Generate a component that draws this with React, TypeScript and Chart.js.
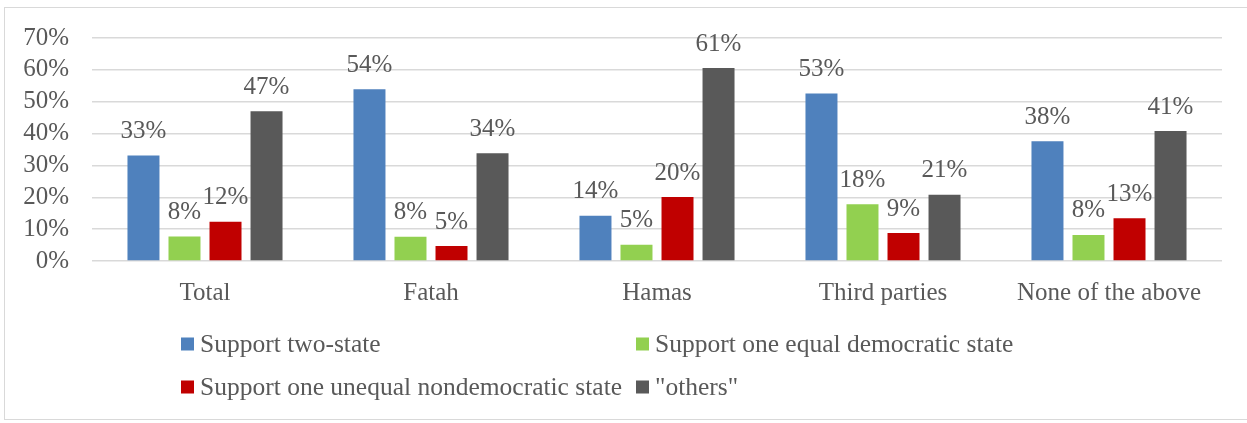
import React, { useEffect, useRef } from "react";
import { Chart, registerables } from "chart.js";

Chart.register(...registerables);

const categories = ["Total", "Fatah", "Hamas", "Third parties", "None of the above"];
const seriesNames = [
  "Support two-state",
  "Support one equal democratic state",
  "Support one unequal nondemocratic state",
  "\"others\"",
];
const twoState = [33.1, 53.9, 14.2, 52.6, 37.6];
const oneEqual = [7.7, 7.6, 5.1, 17.8, 8.2];
const oneUnequal = [12.3, 4.7, 20.1, 8.8, 13.4];
const others = [47.0, 33.8, 60.6, 20.8, 40.8];
const colors = ["#4F81BD", "#92D050", "#C00000", "#595959"];
const yTicks = [0, 10, 20, 30, 40, 50, 60, 70];

const FONT = "'Liberation Serif', 'Times New Roman', serif";
const TEXT = "#595959";

const dataLabels = {
  id: "dataLabels",
  afterDatasetsDraw(chart: any) {
    const ctx = chart.ctx;
    ctx.save();
    ctx.font = `25px ${FONT}`;
    ctx.fillStyle = TEXT;
    ctx.textAlign = "center";
    ctx.textBaseline = "middle";
    chart.data.datasets.forEach((ds: any, i: number) => {
      const meta = chart.getDatasetMeta(i);
      meta.data.forEach((el: any, j: number) => {
        ctx.fillText(Math.round(ds.data[j]) + "%", el.x, el.y - 24);
      });
    });
    ctx.restore();
  },
};

const gridLegend = {
  id: "gridLegend",
  afterDraw(chart: any) {
    const ctx = chart.ctx;
    const cols = [181, 636];
    const rows = [344, 387];
    ctx.save();
    ctx.font = `25.5px ${FONT}`;
    ctx.textBaseline = "middle";
    ctx.textAlign = "left";
    chart.data.datasets.forEach((ds: any, i: number) => {
      const x = cols[i % 2];
      const y = rows[Math.floor(i / 2)];
      ctx.fillStyle = ds.backgroundColor;
      ctx.fillRect(x, y - 6.5, 13, 13);
      ctx.fillStyle = TEXT;
      ctx.fillText(ds.label, x + 19, y + 1);
    });
    ctx.restore();
  },
};

export default function App() {
  const ref = useRef<HTMLCanvasElement | null>(null);
  useEffect(() => {
    if (!ref.current) return;
    const series = [twoState, oneEqual, oneUnequal, others];
    const chart = new Chart(ref.current, {
      type: "bar",
      data: {
        labels: categories,
        datasets: series.map((d, i) => ({
          label: seriesNames[i],
          data: d,
          backgroundColor: colors[i],
          borderWidth: 0,
          categoryPercentage: 0.726,
          barPercentage: 0.78,
        })),
      },
      options: {
        animation: false,
        responsive: false,
        devicePixelRatio: 1,
        layout: { padding: { top: 36, right: 25, left: 0, bottom: 112 } },
        plugins: {
          legend: { display: false },
          tooltip: { enabled: false },
        },
        scales: {
          x: {
            grid: { display: false, drawTicks: false },
            border: { display: false },
            ticks: {
              color: TEXT,
              font: { family: FONT, size: 25 },
              padding: 17,
              maxRotation: 0,
              autoSkip: false,
            },
            afterFit(scale: any) {
              scale.height = 50;
            },
          },
          y: {
            min: 0,
            max: 70,
            afterBuildTicks(scale: any) {
              scale.ticks = yTicks.map((v) => ({ value: v }));
            },
            grid: { color: "#d9d9d9", lineWidth: 1.5, drawTicks: false },
            border: { display: false },
            ticks: {
              color: TEXT,
              font: { family: FONT, size: 25 },
              padding: 23,
              autoSkip: false,
              callback: (v: any) => v + "%",
            },
            afterFit(scale: any) {
              scale.width = 92;
            },
          },
        },
      },
      plugins: [dataLabels, gridLegend],
    });
    return () => chart.destroy();
  }, []);

  return (
    <div style={{ position: "fixed", left: 0, top: 0, width: 1247, height: 423, background: "#fff" }}>
      <div
        style={{
          position: "absolute",
          left: 4,
          top: 7,
          width: 1260,
          height: 413,
          border: "1.5px solid #d9d9d9",
          boxSizing: "border-box",
        }}
      />
      <canvas ref={ref} width={1247} height={423} style={{ position: "absolute", left: 0, top: 0 }} />
    </div>
  );
}
